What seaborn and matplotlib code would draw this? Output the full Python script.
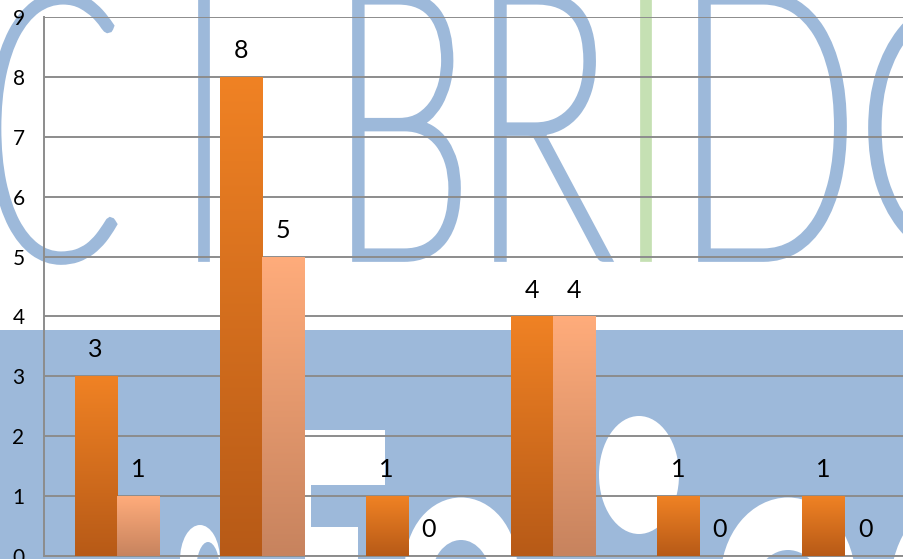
import numpy as np
import pandas as pd
import seaborn as sns
import matplotlib.pyplot as plt
from matplotlib.colors import LinearSegmentedColormap
from matplotlib.patches import Rectangle, Ellipse, PathPatch
from matplotlib.textpath import TextPath
from matplotlib.font_manager import FontProperties
from matplotlib.transforms import Affine2D

# data
categorias = ['G1', 'G2', 'G3', 'G4', 'G5', 'G6']
serie_1 = [3, 8, 1, 4, 1, 1]
serie_2 = [1, 5, 0, 4, 0, 0]
series = ['Serie 1', 'Serie 2']

df = pd.DataFrame({
    'Categoria': categorias * 2,
    'Valor': serie_1 + serie_2,
    'Serie': [series[0]] * len(categorias) + [series[1]] * len(categorias),
})

# cores (topo, base) do degradê de cada série
cores = {
    series[0]: ('#F08224', '#B75A17'),
    series[1]: ('#FFAC7B', '#C7835E'),
}
azul = '#9DB9DA'
cinza = '#8C8C8C'

plt.rcParams['font.family'] = ['Lato', 'DejaVu Sans']

fig = plt.figure(figsize=(9.04, 5.59), dpi=100)

# fundo (marca d'água), em coordenadas de pixel da imagem
bg = fig.add_axes([0, 0, 1, 1], zorder=-1)
bg.set_xlim(0, 904)
bg.set_ylim(559, 0)
bg.axis('off')
bg.add_patch(Rectangle((0, 330), 904, 229, color=azul, lw=0))

# formas brancas na faixa azul
bg.add_patch(Ellipse((639, 475), 80, 118, color='white', lw=0))
bg.add_patch(Ellipse((461, 565), 112, 135, color='white', lw=0))
bg.add_patch(Ellipse((461, 580), 60, 80, color=azul, lw=0))
bg.add_patch(Ellipse((788, 580), 135, 165, color='white', lw=0))
bg.add_patch(Ellipse((788, 600), 75, 100, color=azul, lw=0))
bg.add_patch(Ellipse((945, 590), 110, 170, color='white', lw=0))
bg.add_patch(Rectangle((305, 430), 80, 55, color='white', lw=0))
bg.add_patch(Rectangle((305, 485), 6, 45, color='white', lw=0))
bg.add_patch(Rectangle((305, 527), 53, 32, color='white', lw=0))
bg.add_patch(Ellipse((200, 560), 40, 70, color='white', lw=0))
bg.add_patch(Ellipse((208, 572), 24, 60, color=azul, lw=0))

# letras grandes (traço fino engrossado com contorno)
fp = FontProperties(family='Lato', weight='light')
letras = [
    ('C', (-6, -4, 112, 260), azul),
    ('I', (203, -30, 205, 257), azul),
    ('B', (357, -4, 456, 257), azul),
    ('R', (499, -4, 606, 257), azul),
    ('I', (645, -30, 647, 257), '#C5E0B3'),
    ('D', (703, -4, 842, 257), azul),
    ('C', (873, -4, 1050, 260), azul),
]
for letra, (x0, y0, x1, y1), cor in letras:
    tp = TextPath((0, 0), letra, size=1, prop=fp)
    ext = tp.get_extents()
    sx = (x1 - x0) / ext.width
    sy = (y1 - y0) / ext.height
    tr = Affine2D().translate(-ext.x0, -ext.y0).scale(sx, -sy).translate(x0, y1)
    bg.add_patch(PathPatch(tr.transform_path(tp), facecolor=cor, edgecolor=cor,
                           lw=7, joinstyle='miter', capstyle='butt'))

# gráfico
ax = fig.add_axes([44 / 904, 3 / 559, 1 - 44 / 904, 539 / 559])
ax.set_facecolor('none')
sns.barplot(data=df, x='Categoria', y='Valor', hue='Serie',
            palette={s: cores[s][0] for s in series},
            width=0.58, legend=False, ax=ax, zorder=3)

ax.set_axisbelow(True)
ax.yaxis.grid(True, color=cinza, lw=1.4)
ax.xaxis.grid(False)
for lado in ['top', 'right']:
    ax.spines[lado].set_visible(False)
for lado in ['left', 'bottom']:
    ax.spines[lado].set_color(cinza)
    ax.spines[lado].set_linewidth(1.4)
ax.set_xlabel('')
ax.set_ylabel('')
ax.set_yticks(range(10))
ax.set_xticklabels([])
ax.tick_params(axis='x', length=0)
ax.tick_params(axis='y', length=0, pad=14, labelsize=15)

# degradê nas barras + rótulos
for cont, s in zip(ax.containers, series):
    topo, base = cores[s]
    cmap = LinearSegmentedColormap.from_list(s, [base, topo])
    for bar in cont:
        x = bar.get_x()
        w = bar.get_width()
        h = bar.get_height()
        if h > 0:
            grad = np.linspace(0, 1, 256).reshape(-1, 1)
            im = ax.imshow(grad, extent=[x, x + w, 0, h], origin='lower',
                           aspect='auto', cmap=cmap, zorder=4)
            im.set_clip_path(bar)
        ax.annotate(str(int(h)), (x + w / 2, h), xytext=(0, 19),
                    textcoords='offset points', ha='center', va='center',
                    fontsize=18)

ax.set_xlim(-0.5, 5.41)
ax.set_ylim(0, 9)

plt.savefig('out.png', dpi=100)
